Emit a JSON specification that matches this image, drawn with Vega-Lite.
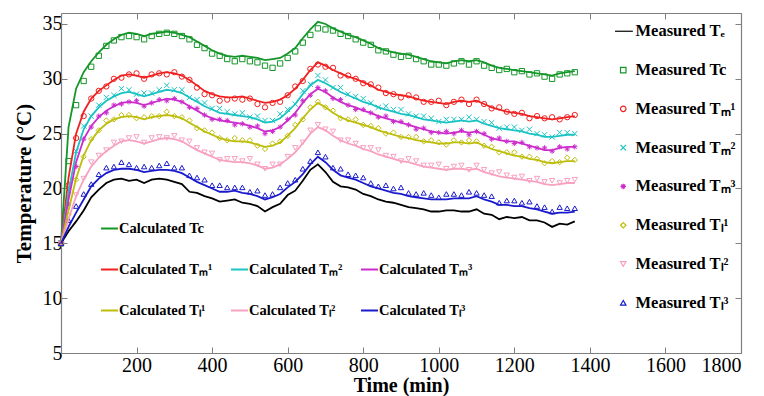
{
"$schema":"https://vega.github.io/schema/vega-lite/v6.json",
"width":680,"height":340,
"autosize":{"type":"none"},
"padding":{"left":61,"top":13,"right":23,"bottom":43},
"background":"white",
"config":{"view":{"stroke":null},"font":"Liberation Serif",
"axis":{"grid":false,"domainColor":"#7f7f7f","tickColor":"#7f7f7f","labelColor":"#000","labelFont":"Liberation Serif","labelFontSize":20,"titleFont":"Liberation Serif","titleFontSize":21,"titleFontWeight":"bold","titleColor":"#000","tickSize":-6,"domainWidth":1.2},
"legend":{"labelFont":"Liberation Serif","labelFontWeight":"bold","labelColor":"#000"}},
"datasets":{
"calc":[
{"s":"c","t":0,"v":15.0},{"s":"c","t":20,"v":25.6},{"s":"c","t":40,"v":29.1},{"s":"c","t":60,"v":30.6},{"s":"c","t":80,"v":31.6},{"s":"c","t":100,"v":32.4},{"s":"c","t":120,"v":33.1},{"s":"c","t":140,"v":33.6},{"s":"c","t":160,"v":34.0},{"s":"c","t":180,"v":34.2},{"s":"c","t":200,"v":34.1},{"s":"c","t":220,"v":33.9},{"s":"c","t":240,"v":34.1},{"s":"c","t":260,"v":34.2},{"s":"c","t":280,"v":34.3},{"s":"c","t":300,"v":34.2},{"s":"c","t":320,"v":34.0},{"s":"c","t":340,"v":33.8},{"s":"c","t":360,"v":33.4},{"s":"c","t":380,"v":33.0},{"s":"c","t":400,"v":32.6},{"s":"c","t":420,"v":32.3},{"s":"c","t":440,"v":32.1},{"s":"c","t":460,"v":32.0},{"s":"c","t":480,"v":32.1},{"s":"c","t":500,"v":32.0},{"s":"c","t":520,"v":31.9},{"s":"c","t":540,"v":31.7},{"s":"c","t":560,"v":31.8},{"s":"c","t":580,"v":31.9},{"s":"c","t":600,"v":32.3},{"s":"c","t":620,"v":32.8},{"s":"c","t":640,"v":33.7},{"s":"c","t":660,"v":34.5},{"s":"c","t":680,"v":35.2},{"s":"c","t":700,"v":35.0},{"s":"c","t":720,"v":34.6},{"s":"c","t":740,"v":34.3},{"s":"c","t":760,"v":34.0},{"s":"c","t":780,"v":33.8},{"s":"c","t":800,"v":33.5},{"s":"c","t":820,"v":33.2},{"s":"c","t":840,"v":32.8},{"s":"c","t":860,"v":32.6},{"s":"c","t":880,"v":32.4},{"s":"c","t":900,"v":32.3},{"s":"c","t":920,"v":32.2},{"s":"c","t":940,"v":32.0},{"s":"c","t":960,"v":31.8},{"s":"c","t":980,"v":31.6},{"s":"c","t":1000,"v":31.5},{"s":"c","t":1020,"v":31.4},{"s":"c","t":1040,"v":31.6},{"s":"c","t":1060,"v":31.7},{"s":"c","t":1080,"v":31.6},{"s":"c","t":1100,"v":31.7},{"s":"c","t":1120,"v":31.5},{"s":"c","t":1140,"v":31.2},{"s":"c","t":1160,"v":31.0},{"s":"c","t":1180,"v":30.9},{"s":"c","t":1200,"v":30.8},{"s":"c","t":1220,"v":30.7},{"s":"c","t":1240,"v":30.6},{"s":"c","t":1260,"v":30.5},{"s":"c","t":1280,"v":30.4},{"s":"c","t":1300,"v":30.3},{"s":"c","t":1320,"v":30.5},{"s":"c","t":1340,"v":30.6},{"s":"c","t":1360,"v":30.7},
{"s":"m1","t":0,"v":15.0},{"s":"m1","t":20,"v":21.0},{"s":"m1","t":40,"v":25.0},{"s":"m1","t":60,"v":27.0},{"s":"m1","t":80,"v":28.2},{"s":"m1","t":100,"v":28.9},{"s":"m1","t":120,"v":29.4},{"s":"m1","t":140,"v":29.9},{"s":"m1","t":160,"v":30.3},{"s":"m1","t":180,"v":30.4},{"s":"m1","t":200,"v":30.3},{"s":"m1","t":220,"v":30.1},{"s":"m1","t":240,"v":30.3},{"s":"m1","t":260,"v":30.5},{"s":"m1","t":280,"v":30.6},{"s":"m1","t":300,"v":30.5},{"s":"m1","t":320,"v":30.3},{"s":"m1","t":340,"v":29.9},{"s":"m1","t":360,"v":29.4},{"s":"m1","t":380,"v":28.9},{"s":"m1","t":400,"v":28.6},{"s":"m1","t":420,"v":28.4},{"s":"m1","t":440,"v":28.3},{"s":"m1","t":460,"v":28.3},{"s":"m1","t":480,"v":28.4},{"s":"m1","t":500,"v":28.2},{"s":"m1","t":520,"v":28.0},{"s":"m1","t":540,"v":27.8},{"s":"m1","t":560,"v":27.9},{"s":"m1","t":580,"v":28.1},{"s":"m1","t":600,"v":28.5},{"s":"m1","t":620,"v":29.1},{"s":"m1","t":640,"v":29.9},{"s":"m1","t":660,"v":30.8},{"s":"m1","t":680,"v":31.5},{"s":"m1","t":700,"v":31.2},{"s":"m1","t":720,"v":30.8},{"s":"m1","t":740,"v":30.5},{"s":"m1","t":760,"v":30.2},{"s":"m1","t":780,"v":30.0},{"s":"m1","t":800,"v":29.7},{"s":"m1","t":820,"v":29.4},{"s":"m1","t":840,"v":29.0},{"s":"m1","t":860,"v":28.8},{"s":"m1","t":880,"v":28.6},{"s":"m1","t":900,"v":28.5},{"s":"m1","t":920,"v":28.4},{"s":"m1","t":940,"v":28.2},{"s":"m1","t":960,"v":28.0},{"s":"m1","t":980,"v":27.9},{"s":"m1","t":1000,"v":27.8},{"s":"m1","t":1020,"v":27.7},{"s":"m1","t":1040,"v":27.9},{"s":"m1","t":1060,"v":28.0},{"s":"m1","t":1080,"v":27.9},{"s":"m1","t":1100,"v":28.0},{"s":"m1","t":1120,"v":27.7},{"s":"m1","t":1140,"v":27.4},{"s":"m1","t":1160,"v":27.2},{"s":"m1","t":1180,"v":27.0},{"s":"m1","t":1200,"v":26.9},{"s":"m1","t":1220,"v":26.8},{"s":"m1","t":1240,"v":26.6},{"s":"m1","t":1260,"v":26.5},{"s":"m1","t":1280,"v":26.4},{"s":"m1","t":1300,"v":26.3},{"s":"m1","t":1320,"v":26.4},{"s":"m1","t":1340,"v":26.5},{"s":"m1","t":1360,"v":26.6},
{"s":"m2","t":0,"v":15.0},{"s":"m2","t":20,"v":19.7},{"s":"m2","t":40,"v":23.3},{"s":"m2","t":60,"v":25.4},{"s":"m2","t":80,"v":26.6},{"s":"m2","t":100,"v":27.4},{"s":"m2","t":120,"v":28.0},{"s":"m2","t":140,"v":28.4},{"s":"m2","t":160,"v":28.7},{"s":"m2","t":180,"v":28.8},{"s":"m2","t":200,"v":28.6},{"s":"m2","t":220,"v":28.4},{"s":"m2","t":240,"v":28.6},{"s":"m2","t":260,"v":28.8},{"s":"m2","t":280,"v":29.0},{"s":"m2","t":300,"v":28.9},{"s":"m2","t":320,"v":28.7},{"s":"m2","t":340,"v":28.3},{"s":"m2","t":360,"v":27.9},{"s":"m2","t":380,"v":27.5},{"s":"m2","t":400,"v":27.2},{"s":"m2","t":420,"v":26.9},{"s":"m2","t":440,"v":26.8},{"s":"m2","t":460,"v":26.7},{"s":"m2","t":480,"v":26.6},{"s":"m2","t":500,"v":26.5},{"s":"m2","t":520,"v":26.3},{"s":"m2","t":540,"v":26.0},{"s":"m2","t":560,"v":26.1},{"s":"m2","t":580,"v":26.4},{"s":"m2","t":600,"v":27.0},{"s":"m2","t":620,"v":27.7},{"s":"m2","t":640,"v":28.6},{"s":"m2","t":660,"v":29.4},{"s":"m2","t":680,"v":29.9},{"s":"m2","t":700,"v":29.6},{"s":"m2","t":720,"v":29.2},{"s":"m2","t":740,"v":28.8},{"s":"m2","t":760,"v":28.5},{"s":"m2","t":780,"v":28.2},{"s":"m2","t":800,"v":27.9},{"s":"m2","t":820,"v":27.7},{"s":"m2","t":840,"v":27.4},{"s":"m2","t":860,"v":27.2},{"s":"m2","t":880,"v":27.0},{"s":"m2","t":900,"v":26.8},{"s":"m2","t":920,"v":26.7},{"s":"m2","t":940,"v":26.5},{"s":"m2","t":960,"v":26.3},{"s":"m2","t":980,"v":26.2},{"s":"m2","t":1000,"v":26.1},{"s":"m2","t":1020,"v":26.0},{"s":"m2","t":1040,"v":26.1},{"s":"m2","t":1060,"v":26.2},{"s":"m2","t":1080,"v":26.1},{"s":"m2","t":1100,"v":26.2},{"s":"m2","t":1120,"v":25.9},{"s":"m2","t":1140,"v":25.7},{"s":"m2","t":1160,"v":25.5},{"s":"m2","t":1180,"v":25.4},{"s":"m2","t":1200,"v":25.3},{"s":"m2","t":1220,"v":25.2},{"s":"m2","t":1240,"v":25.0},{"s":"m2","t":1260,"v":24.9},{"s":"m2","t":1280,"v":24.7},{"s":"m2","t":1300,"v":24.7},{"s":"m2","t":1320,"v":24.8},{"s":"m2","t":1340,"v":24.9},{"s":"m2","t":1360,"v":24.9},
{"s":"m3","t":0,"v":15.0},{"s":"m3","t":20,"v":19.0},{"s":"m3","t":40,"v":22.4},{"s":"m3","t":60,"v":24.5},{"s":"m3","t":80,"v":25.7},{"s":"m3","t":100,"v":26.5},{"s":"m3","t":120,"v":27.1},{"s":"m3","t":140,"v":27.5},{"s":"m3","t":160,"v":27.8},{"s":"m3","t":180,"v":27.9},{"s":"m3","t":200,"v":27.8},{"s":"m3","t":220,"v":27.6},{"s":"m3","t":240,"v":27.8},{"s":"m3","t":260,"v":28.0},{"s":"m3","t":280,"v":28.2},{"s":"m3","t":300,"v":28.1},{"s":"m3","t":320,"v":27.9},{"s":"m3","t":340,"v":27.5},{"s":"m3","t":360,"v":27.1},{"s":"m3","t":380,"v":26.7},{"s":"m3","t":400,"v":26.4},{"s":"m3","t":420,"v":26.2},{"s":"m3","t":440,"v":26.1},{"s":"m3","t":460,"v":26.0},{"s":"m3","t":480,"v":25.9},{"s":"m3","t":500,"v":25.7},{"s":"m3","t":520,"v":25.5},{"s":"m3","t":540,"v":25.2},{"s":"m3","t":560,"v":25.3},{"s":"m3","t":580,"v":25.6},{"s":"m3","t":600,"v":26.2},{"s":"m3","t":620,"v":26.9},{"s":"m3","t":640,"v":27.8},{"s":"m3","t":660,"v":28.6},{"s":"m3","t":680,"v":29.1},{"s":"m3","t":700,"v":28.8},{"s":"m3","t":720,"v":28.3},{"s":"m3","t":740,"v":27.9},{"s":"m3","t":760,"v":27.6},{"s":"m3","t":780,"v":27.4},{"s":"m3","t":800,"v":27.1},{"s":"m3","t":820,"v":26.9},{"s":"m3","t":840,"v":26.6},{"s":"m3","t":860,"v":26.4},{"s":"m3","t":880,"v":26.2},{"s":"m3","t":900,"v":26.0},{"s":"m3","t":920,"v":25.8},{"s":"m3","t":940,"v":25.6},{"s":"m3","t":960,"v":25.4},{"s":"m3","t":980,"v":25.2},{"s":"m3","t":1000,"v":25.1},{"s":"m3","t":1020,"v":25.0},{"s":"m3","t":1040,"v":25.1},{"s":"m3","t":1060,"v":25.2},{"s":"m3","t":1080,"v":25.1},{"s":"m3","t":1100,"v":25.2},{"s":"m3","t":1120,"v":24.9},{"s":"m3","t":1140,"v":24.6},{"s":"m3","t":1160,"v":24.4},{"s":"m3","t":1180,"v":24.3},{"s":"m3","t":1200,"v":24.3},{"s":"m3","t":1220,"v":24.1},{"s":"m3","t":1240,"v":23.9},{"s":"m3","t":1260,"v":23.7},{"s":"m3","t":1280,"v":23.5},{"s":"m3","t":1300,"v":23.5},{"s":"m3","t":1320,"v":23.7},{"s":"m3","t":1340,"v":23.8},{"s":"m3","t":1360,"v":23.8},
{"s":"l1","t":0,"v":15.0},{"s":"l1","t":20,"v":18.0},{"s":"l1","t":40,"v":20.9},{"s":"l1","t":60,"v":23.0},{"s":"l1","t":80,"v":24.4},{"s":"l1","t":100,"v":25.3},{"s":"l1","t":120,"v":25.9},{"s":"l1","t":140,"v":26.3},{"s":"l1","t":160,"v":26.5},{"s":"l1","t":180,"v":26.6},{"s":"l1","t":200,"v":26.5},{"s":"l1","t":220,"v":26.3},{"s":"l1","t":240,"v":26.5},{"s":"l1","t":260,"v":26.6},{"s":"l1","t":280,"v":26.7},{"s":"l1","t":300,"v":26.6},{"s":"l1","t":320,"v":26.4},{"s":"l1","t":340,"v":26.0},{"s":"l1","t":360,"v":25.6},{"s":"l1","t":380,"v":25.2},{"s":"l1","t":400,"v":24.9},{"s":"l1","t":420,"v":24.6},{"s":"l1","t":440,"v":24.4},{"s":"l1","t":460,"v":24.3},{"s":"l1","t":480,"v":24.3},{"s":"l1","t":500,"v":24.2},{"s":"l1","t":520,"v":24.0},{"s":"l1","t":540,"v":23.8},{"s":"l1","t":560,"v":23.9},{"s":"l1","t":580,"v":24.2},{"s":"l1","t":600,"v":24.8},{"s":"l1","t":620,"v":25.5},{"s":"l1","t":640,"v":26.4},{"s":"l1","t":660,"v":27.2},{"s":"l1","t":680,"v":27.8},{"s":"l1","t":700,"v":27.4},{"s":"l1","t":720,"v":26.9},{"s":"l1","t":740,"v":26.5},{"s":"l1","t":760,"v":26.2},{"s":"l1","t":780,"v":26.0},{"s":"l1","t":800,"v":25.8},{"s":"l1","t":820,"v":25.6},{"s":"l1","t":840,"v":25.3},{"s":"l1","t":860,"v":25.1},{"s":"l1","t":880,"v":24.9},{"s":"l1","t":900,"v":24.7},{"s":"l1","t":920,"v":24.6},{"s":"l1","t":940,"v":24.4},{"s":"l1","t":960,"v":24.3},{"s":"l1","t":980,"v":24.2},{"s":"l1","t":1000,"v":24.1},{"s":"l1","t":1020,"v":24.1},{"s":"l1","t":1040,"v":24.2},{"s":"l1","t":1060,"v":24.2},{"s":"l1","t":1080,"v":24.1},{"s":"l1","t":1100,"v":24.2},{"s":"l1","t":1120,"v":23.9},{"s":"l1","t":1140,"v":23.6},{"s":"l1","t":1160,"v":23.4},{"s":"l1","t":1180,"v":23.2},{"s":"l1","t":1200,"v":23.0},{"s":"l1","t":1220,"v":22.9},{"s":"l1","t":1240,"v":22.7},{"s":"l1","t":1260,"v":22.6},{"s":"l1","t":1280,"v":22.4},{"s":"l1","t":1300,"v":22.3},{"s":"l1","t":1320,"v":22.4},{"s":"l1","t":1340,"v":22.5},{"s":"l1","t":1360,"v":22.5},
{"s":"l2","t":0,"v":15.0},{"s":"l2","t":20,"v":17.2},{"s":"l2","t":40,"v":19.3},{"s":"l2","t":60,"v":20.8},{"s":"l2","t":80,"v":22.0},{"s":"l2","t":100,"v":22.8},{"s":"l2","t":120,"v":23.4},{"s":"l2","t":140,"v":23.9},{"s":"l2","t":160,"v":24.3},{"s":"l2","t":180,"v":24.4},{"s":"l2","t":200,"v":24.3},{"s":"l2","t":220,"v":24.1},{"s":"l2","t":240,"v":24.3},{"s":"l2","t":260,"v":24.5},{"s":"l2","t":280,"v":24.6},{"s":"l2","t":300,"v":24.5},{"s":"l2","t":320,"v":24.3},{"s":"l2","t":340,"v":23.9},{"s":"l2","t":360,"v":23.5},{"s":"l2","t":380,"v":23.2},{"s":"l2","t":400,"v":22.9},{"s":"l2","t":420,"v":22.6},{"s":"l2","t":440,"v":22.5},{"s":"l2","t":460,"v":22.4},{"s":"l2","t":480,"v":22.4},{"s":"l2","t":500,"v":22.3},{"s":"l2","t":520,"v":22.1},{"s":"l2","t":540,"v":21.8},{"s":"l2","t":560,"v":21.9},{"s":"l2","t":580,"v":22.2},{"s":"l2","t":600,"v":22.7},{"s":"l2","t":620,"v":23.3},{"s":"l2","t":640,"v":24.1},{"s":"l2","t":660,"v":25.0},{"s":"l2","t":680,"v":25.6},{"s":"l2","t":700,"v":25.3},{"s":"l2","t":720,"v":24.8},{"s":"l2","t":740,"v":24.4},{"s":"l2","t":760,"v":24.1},{"s":"l2","t":780,"v":23.9},{"s":"l2","t":800,"v":23.6},{"s":"l2","t":820,"v":23.4},{"s":"l2","t":840,"v":23.1},{"s":"l2","t":860,"v":22.9},{"s":"l2","t":880,"v":22.7},{"s":"l2","t":900,"v":22.5},{"s":"l2","t":920,"v":22.4},{"s":"l2","t":940,"v":22.2},{"s":"l2","t":960,"v":22.0},{"s":"l2","t":980,"v":21.9},{"s":"l2","t":1000,"v":21.8},{"s":"l2","t":1020,"v":21.7},{"s":"l2","t":1040,"v":21.8},{"s":"l2","t":1060,"v":21.8},{"s":"l2","t":1080,"v":21.7},{"s":"l2","t":1100,"v":21.8},{"s":"l2","t":1120,"v":21.5},{"s":"l2","t":1140,"v":21.3},{"s":"l2","t":1160,"v":21.1},{"s":"l2","t":1180,"v":21.0},{"s":"l2","t":1200,"v":20.9},{"s":"l2","t":1220,"v":20.8},{"s":"l2","t":1240,"v":20.7},{"s":"l2","t":1260,"v":20.6},{"s":"l2","t":1280,"v":20.4},{"s":"l2","t":1300,"v":20.3},{"s":"l2","t":1320,"v":20.4},{"s":"l2","t":1340,"v":20.5},{"s":"l2","t":1360,"v":20.5},
{"s":"l3","t":0,"v":15.0},{"s":"l3","t":20,"v":16.5},{"s":"l3","t":40,"v":17.8},{"s":"l3","t":60,"v":19.0},{"s":"l3","t":80,"v":20.2},{"s":"l3","t":100,"v":20.9},{"s":"l3","t":120,"v":21.4},{"s":"l3","t":140,"v":21.7},{"s":"l3","t":160,"v":21.8},{"s":"l3","t":180,"v":21.8},{"s":"l3","t":200,"v":21.7},{"s":"l3","t":220,"v":21.5},{"s":"l3","t":240,"v":21.6},{"s":"l3","t":260,"v":21.7},{"s":"l3","t":280,"v":21.7},{"s":"l3","t":300,"v":21.6},{"s":"l3","t":320,"v":21.4},{"s":"l3","t":340,"v":21.0},{"s":"l3","t":360,"v":20.6},{"s":"l3","t":380,"v":20.3},{"s":"l3","t":400,"v":20.0},{"s":"l3","t":420,"v":19.7},{"s":"l3","t":440,"v":19.7},{"s":"l3","t":460,"v":19.8},{"s":"l3","t":480,"v":19.6},{"s":"l3","t":500,"v":19.5},{"s":"l3","t":520,"v":19.3},{"s":"l3","t":540,"v":19.0},{"s":"l3","t":560,"v":19.2},{"s":"l3","t":580,"v":19.5},{"s":"l3","t":600,"v":20.1},{"s":"l3","t":620,"v":20.6},{"s":"l3","t":640,"v":21.3},{"s":"l3","t":660,"v":22.2},{"s":"l3","t":680,"v":22.9},{"s":"l3","t":700,"v":22.4},{"s":"l3","t":720,"v":21.7},{"s":"l3","t":740,"v":21.2},{"s":"l3","t":760,"v":21.0},{"s":"l3","t":780,"v":20.8},{"s":"l3","t":800,"v":20.5},{"s":"l3","t":820,"v":20.2},{"s":"l3","t":840,"v":20.0},{"s":"l3","t":860,"v":19.8},{"s":"l3","t":880,"v":19.6},{"s":"l3","t":900,"v":19.5},{"s":"l3","t":920,"v":19.3},{"s":"l3","t":940,"v":19.2},{"s":"l3","t":960,"v":19.1},{"s":"l3","t":980,"v":19.0},{"s":"l3","t":1000,"v":19.0},{"s":"l3","t":1020,"v":19.0},{"s":"l3","t":1040,"v":19.1},{"s":"l3","t":1060,"v":19.1},{"s":"l3","t":1080,"v":19.1},{"s":"l3","t":1100,"v":19.3},{"s":"l3","t":1120,"v":19.0},{"s":"l3","t":1140,"v":18.8},{"s":"l3","t":1160,"v":18.5},{"s":"l3","t":1180,"v":18.5},{"s":"l3","t":1200,"v":18.4},{"s":"l3","t":1220,"v":18.4},{"s":"l3","t":1240,"v":18.2},{"s":"l3","t":1260,"v":18.1},{"s":"l3","t":1280,"v":17.9},{"s":"l3","t":1300,"v":17.7},{"s":"l3","t":1320,"v":17.8},{"s":"l3","t":1340,"v":17.8},{"s":"l3","t":1360,"v":17.9}
],
"meas":[
{"s":"e","t":0,"v":15.0},{"s":"e","t":20,"v":16.1},{"s":"e","t":40,"v":17.0},{"s":"e","t":60,"v":18.0},{"s":"e","t":80,"v":19.2},{"s":"e","t":100,"v":19.9},{"s":"e","t":120,"v":20.5},{"s":"e","t":140,"v":20.8},{"s":"e","t":160,"v":20.9},{"s":"e","t":180,"v":20.7},{"s":"e","t":200,"v":20.8},{"s":"e","t":220,"v":20.5},{"s":"e","t":240,"v":20.8},{"s":"e","t":260,"v":20.9},{"s":"e","t":280,"v":20.8},{"s":"e","t":300,"v":20.6},{"s":"e","t":320,"v":20.4},{"s":"e","t":340,"v":19.7},{"s":"e","t":360,"v":19.6},{"s":"e","t":380,"v":19.3},{"s":"e","t":400,"v":19.1},{"s":"e","t":420,"v":18.8},{"s":"e","t":440,"v":18.9},{"s":"e","t":460,"v":19.0},{"s":"e","t":480,"v":18.7},{"s":"e","t":500,"v":18.6},{"s":"e","t":520,"v":18.4},{"s":"e","t":540,"v":17.9},{"s":"e","t":560,"v":18.3},{"s":"e","t":580,"v":18.6},{"s":"e","t":600,"v":19.4},{"s":"e","t":620,"v":19.8},{"s":"e","t":640,"v":20.7},{"s":"e","t":660,"v":21.7},{"s":"e","t":680,"v":22.2},{"s":"e","t":700,"v":21.5},{"s":"e","t":720,"v":20.6},{"s":"e","t":740,"v":20.2},{"s":"e","t":760,"v":20.1},{"s":"e","t":780,"v":19.9},{"s":"e","t":800,"v":19.5},{"s":"e","t":820,"v":19.3},{"s":"e","t":840,"v":19.0},{"s":"e","t":860,"v":18.8},{"s":"e","t":880,"v":18.7},{"s":"e","t":900,"v":18.5},{"s":"e","t":920,"v":18.3},{"s":"e","t":940,"v":18.2},{"s":"e","t":960,"v":18.1},{"s":"e","t":980,"v":17.9},{"s":"e","t":1000,"v":17.9},{"s":"e","t":1020,"v":18.0},{"s":"e","t":1040,"v":18.0},{"s":"e","t":1060,"v":17.9},{"s":"e","t":1080,"v":17.9},{"s":"e","t":1100,"v":18.1},{"s":"e","t":1120,"v":17.7},{"s":"e","t":1140,"v":17.6},{"s":"e","t":1160,"v":17.2},{"s":"e","t":1180,"v":17.4},{"s":"e","t":1200,"v":17.3},{"s":"e","t":1220,"v":17.4},{"s":"e","t":1240,"v":17.1},{"s":"e","t":1260,"v":17.1},{"s":"e","t":1280,"v":16.9},{"s":"e","t":1300,"v":16.5},{"s":"e","t":1320,"v":16.8},{"s":"e","t":1340,"v":16.7},{"s":"e","t":1360,"v":17.0},
{"s":"c","t":0,"v":15.0},{"s":"c","t":20,"v":22.5},{"s":"c","t":40,"v":27.6},{"s":"c","t":60,"v":29.8},{"s":"c","t":80,"v":31.1},{"s":"c","t":100,"v":32.1},{"s":"c","t":120,"v":33.0},{"s":"c","t":140,"v":33.5},{"s":"c","t":160,"v":33.8},{"s":"c","t":180,"v":33.9},{"s":"c","t":200,"v":33.8},{"s":"c","t":220,"v":33.6},{"s":"c","t":240,"v":33.9},{"s":"c","t":260,"v":34.1},{"s":"c","t":280,"v":34.2},{"s":"c","t":300,"v":34.1},{"s":"c","t":320,"v":33.9},{"s":"c","t":340,"v":33.6},{"s":"c","t":360,"v":33.1},{"s":"c","t":380,"v":32.8},{"s":"c","t":400,"v":32.3},{"s":"c","t":420,"v":32.1},{"s":"c","t":440,"v":31.8},{"s":"c","t":460,"v":31.6},{"s":"c","t":480,"v":31.8},{"s":"c","t":500,"v":31.6},{"s":"c","t":520,"v":31.5},{"s":"c","t":540,"v":31.2},{"s":"c","t":560,"v":31.0},{"s":"c","t":580,"v":31.4},{"s":"c","t":600,"v":31.9},{"s":"c","t":620,"v":32.5},{"s":"c","t":640,"v":33.3},{"s":"c","t":660,"v":34.0},{"s":"c","t":680,"v":34.6},{"s":"c","t":700,"v":34.5},{"s":"c","t":720,"v":34.4},{"s":"c","t":740,"v":34.1},{"s":"c","t":760,"v":33.9},{"s":"c","t":780,"v":33.6},{"s":"c","t":800,"v":33.3},{"s":"c","t":820,"v":33.1},{"s":"c","t":840,"v":32.6},{"s":"c","t":860,"v":32.5},{"s":"c","t":880,"v":32.2},{"s":"c","t":900,"v":32.0},{"s":"c","t":920,"v":32.1},{"s":"c","t":940,"v":31.8},{"s":"c","t":960,"v":31.6},{"s":"c","t":980,"v":31.3},{"s":"c","t":1000,"v":31.3},{"s":"c","t":1020,"v":31.2},{"s":"c","t":1040,"v":31.4},{"s":"c","t":1060,"v":31.6},{"s":"c","t":1080,"v":31.3},{"s":"c","t":1100,"v":31.6},{"s":"c","t":1120,"v":31.2},{"s":"c","t":1140,"v":31.0},{"s":"c","t":1160,"v":30.8},{"s":"c","t":1180,"v":30.9},{"s":"c","t":1200,"v":30.6},{"s":"c","t":1220,"v":30.7},{"s":"c","t":1240,"v":30.4},{"s":"c","t":1260,"v":30.5},{"s":"c","t":1280,"v":30.2},{"s":"c","t":1300,"v":30.0},{"s":"c","t":1320,"v":30.4},{"s":"c","t":1340,"v":30.5},{"s":"c","t":1360,"v":30.6},
{"s":"m1","t":0,"v":15.0},{"s":"m1","t":20,"v":20.3},{"s":"m1","t":40,"v":24.6},{"s":"m1","t":60,"v":26.6},{"s":"m1","t":80,"v":28.2},{"s":"m1","t":100,"v":28.9},{"s":"m1","t":120,"v":29.3},{"s":"m1","t":140,"v":30.0},{"s":"m1","t":160,"v":30.1},{"s":"m1","t":180,"v":30.4},{"s":"m1","t":200,"v":30.5},{"s":"m1","t":220,"v":30.0},{"s":"m1","t":240,"v":30.4},{"s":"m1","t":260,"v":30.5},{"s":"m1","t":280,"v":30.4},{"s":"m1","t":300,"v":30.6},{"s":"m1","t":320,"v":30.2},{"s":"m1","t":340,"v":29.9},{"s":"m1","t":360,"v":29.2},{"s":"m1","t":380,"v":28.6},{"s":"m1","t":400,"v":28.5},{"s":"m1","t":420,"v":28.0},{"s":"m1","t":440,"v":28.1},{"s":"m1","t":460,"v":28.2},{"s":"m1","t":480,"v":28.1},{"s":"m1","t":500,"v":28.2},{"s":"m1","t":520,"v":27.7},{"s":"m1","t":540,"v":27.4},{"s":"m1","t":560,"v":27.8},{"s":"m1","t":580,"v":27.9},{"s":"m1","t":600,"v":28.5},{"s":"m1","t":620,"v":29.3},{"s":"m1","t":640,"v":29.8},{"s":"m1","t":660,"v":30.9},{"s":"m1","t":680,"v":31.3},{"s":"m1","t":700,"v":31.1},{"s":"m1","t":720,"v":31.0},{"s":"m1","t":740,"v":30.3},{"s":"m1","t":760,"v":30.3},{"s":"m1","t":780,"v":30.0},{"s":"m1","t":800,"v":29.6},{"s":"m1","t":820,"v":29.5},{"s":"m1","t":840,"v":29.2},{"s":"m1","t":860,"v":28.7},{"s":"m1","t":880,"v":28.6},{"s":"m1","t":900,"v":28.3},{"s":"m1","t":920,"v":28.5},{"s":"m1","t":940,"v":28.3},{"s":"m1","t":960,"v":27.9},{"s":"m1","t":980,"v":27.9},{"s":"m1","t":1000,"v":28.0},{"s":"m1","t":1020,"v":27.6},{"s":"m1","t":1040,"v":27.9},{"s":"m1","t":1060,"v":28.1},{"s":"m1","t":1080,"v":27.7},{"s":"m1","t":1100,"v":28.1},{"s":"m1","t":1120,"v":27.7},{"s":"m1","t":1140,"v":27.3},{"s":"m1","t":1160,"v":27.4},{"s":"m1","t":1180,"v":27.0},{"s":"m1","t":1200,"v":26.8},{"s":"m1","t":1220,"v":26.9},{"s":"m1","t":1240,"v":26.4},{"s":"m1","t":1260,"v":26.6},{"s":"m1","t":1280,"v":26.4},{"s":"m1","t":1300,"v":26.5},{"s":"m1","t":1320,"v":26.3},{"s":"m1","t":1340,"v":26.5},{"s":"m1","t":1360,"v":26.7},
{"s":"m2","t":0,"v":15.0},{"s":"m2","t":20,"v":19.9},{"s":"m2","t":40,"v":23.4},{"s":"m2","t":60,"v":25.7},{"s":"m2","t":80,"v":26.6},{"s":"m2","t":100,"v":27.6},{"s":"m2","t":120,"v":28.3},{"s":"m2","t":140,"v":28.5},{"s":"m2","t":160,"v":29.1},{"s":"m2","t":180,"v":29.0},{"s":"m2","t":200,"v":28.6},{"s":"m2","t":220,"v":28.7},{"s":"m2","t":240,"v":28.7},{"s":"m2","t":260,"v":29.0},{"s":"m2","t":280,"v":29.4},{"s":"m2","t":300,"v":29.0},{"s":"m2","t":320,"v":29.0},{"s":"m2","t":340,"v":28.3},{"s":"m2","t":360,"v":28.1},{"s":"m2","t":380,"v":27.8},{"s":"m2","t":400,"v":27.3},{"s":"m2","t":420,"v":27.3},{"s":"m2","t":440,"v":27.0},{"s":"m2","t":460,"v":26.8},{"s":"m2","t":480,"v":26.9},{"s":"m2","t":500,"v":26.5},{"s":"m2","t":520,"v":26.6},{"s":"m2","t":540,"v":26.2},{"s":"m2","t":560,"v":26.2},{"s":"m2","t":580,"v":26.8},{"s":"m2","t":600,"v":27.2},{"s":"m2","t":620,"v":27.7},{"s":"m2","t":640,"v":28.9},{"s":"m2","t":660,"v":29.5},{"s":"m2","t":680,"v":30.3},{"s":"m2","t":700,"v":29.9},{"s":"m2","t":720,"v":29.2},{"s":"m2","t":740,"v":29.2},{"s":"m2","t":760,"v":28.6},{"s":"m2","t":780,"v":28.4},{"s":"m2","t":800,"v":28.2},{"s":"m2","t":820,"v":27.8},{"s":"m2","t":840,"v":27.4},{"s":"m2","t":860,"v":27.5},{"s":"m2","t":880,"v":27.2},{"s":"m2","t":900,"v":27.2},{"s":"m2","t":920,"v":26.8},{"s":"m2","t":940,"v":26.6},{"s":"m2","t":960,"v":26.6},{"s":"m2","t":980,"v":26.4},{"s":"m2","t":1000,"v":26.1},{"s":"m2","t":1020,"v":26.3},{"s":"m2","t":1040,"v":26.3},{"s":"m2","t":1060,"v":26.3},{"s":"m2","t":1080,"v":26.5},{"s":"m2","t":1100,"v":26.3},{"s":"m2","t":1120,"v":26.1},{"s":"m2","t":1140,"v":26.0},{"s":"m2","t":1160,"v":25.5},{"s":"m2","t":1180,"v":25.6},{"s":"m2","t":1200,"v":25.6},{"s":"m2","t":1220,"v":25.3},{"s":"m2","t":1240,"v":25.4},{"s":"m2","t":1260,"v":25.0},{"s":"m2","t":1280,"v":24.9},{"s":"m2","t":1300,"v":24.7},{"s":"m2","t":1320,"v":25.1},{"s":"m2","t":1340,"v":25.1},{"s":"m2","t":1360,"v":25.0},
{"s":"m3","t":0,"v":15.0},{"s":"m3","t":20,"v":18.6},{"s":"m3","t":40,"v":22.0},{"s":"m3","t":60,"v":24.5},{"s":"m3","t":80,"v":25.6},{"s":"m3","t":100,"v":26.6},{"s":"m3","t":120,"v":26.9},{"s":"m3","t":140,"v":27.6},{"s":"m3","t":160,"v":27.7},{"s":"m3","t":180,"v":27.9},{"s":"m3","t":200,"v":28.0},{"s":"m3","t":220,"v":27.5},{"s":"m3","t":240,"v":27.8},{"s":"m3","t":260,"v":28.1},{"s":"m3","t":280,"v":28.0},{"s":"m3","t":300,"v":28.2},{"s":"m3","t":320,"v":27.9},{"s":"m3","t":340,"v":27.4},{"s":"m3","t":360,"v":27.3},{"s":"m3","t":380,"v":26.7},{"s":"m3","t":400,"v":26.3},{"s":"m3","t":420,"v":26.3},{"s":"m3","t":440,"v":26.2},{"s":"m3","t":460,"v":25.8},{"s":"m3","t":480,"v":25.9},{"s":"m3","t":500,"v":25.6},{"s":"m3","t":520,"v":25.7},{"s":"m3","t":540,"v":25.0},{"s":"m3","t":560,"v":25.2},{"s":"m3","t":580,"v":25.6},{"s":"m3","t":600,"v":26.3},{"s":"m3","t":620,"v":26.7},{"s":"m3","t":640,"v":28.0},{"s":"m3","t":660,"v":28.5},{"s":"m3","t":680,"v":29.2},{"s":"m3","t":700,"v":28.9},{"s":"m3","t":720,"v":28.2},{"s":"m3","t":740,"v":28.1},{"s":"m3","t":760,"v":27.6},{"s":"m3","t":780,"v":27.2},{"s":"m3","t":800,"v":27.2},{"s":"m3","t":820,"v":26.9},{"s":"m3","t":840,"v":26.5},{"s":"m3","t":860,"v":26.6},{"s":"m3","t":880,"v":26.1},{"s":"m3","t":900,"v":26.1},{"s":"m3","t":920,"v":25.8},{"s":"m3","t":940,"v":25.4},{"s":"m3","t":960,"v":25.5},{"s":"m3","t":980,"v":25.1},{"s":"m3","t":1000,"v":25.1},{"s":"m3","t":1020,"v":25.2},{"s":"m3","t":1040,"v":25.0},{"s":"m3","t":1060,"v":25.3},{"s":"m3","t":1080,"v":24.9},{"s":"m3","t":1100,"v":25.2},{"s":"m3","t":1120,"v":25.0},{"s":"m3","t":1140,"v":24.5},{"s":"m3","t":1160,"v":24.6},{"s":"m3","t":1180,"v":24.3},{"s":"m3","t":1200,"v":24.1},{"s":"m3","t":1220,"v":24.2},{"s":"m3","t":1240,"v":23.8},{"s":"m3","t":1260,"v":23.7},{"s":"m3","t":1280,"v":23.7},{"s":"m3","t":1300,"v":23.4},{"s":"m3","t":1320,"v":23.8},{"s":"m3","t":1340,"v":23.6},{"s":"m3","t":1360,"v":23.8},
{"s":"l1","t":0,"v":15.0},{"s":"l1","t":20,"v":17.6},{"s":"l1","t":40,"v":20.8},{"s":"l1","t":60,"v":22.9},{"s":"l1","t":80,"v":24.5},{"s":"l1","t":100,"v":25.3},{"s":"l1","t":120,"v":26.2},{"s":"l1","t":140,"v":26.3},{"s":"l1","t":160,"v":26.7},{"s":"l1","t":180,"v":26.7},{"s":"l1","t":200,"v":26.4},{"s":"l1","t":220,"v":26.5},{"s":"l1","t":240,"v":26.6},{"s":"l1","t":260,"v":26.6},{"s":"l1","t":280,"v":27.0},{"s":"l1","t":300,"v":26.6},{"s":"l1","t":320,"v":26.5},{"s":"l1","t":340,"v":26.2},{"s":"l1","t":360,"v":25.5},{"s":"l1","t":380,"v":25.3},{"s":"l1","t":400,"v":25.1},{"s":"l1","t":420,"v":24.6},{"s":"l1","t":440,"v":24.4},{"s":"l1","t":460,"v":24.6},{"s":"l1","t":480,"v":24.4},{"s":"l1","t":500,"v":24.4},{"s":"l1","t":520,"v":23.9},{"s":"l1","t":540,"v":23.6},{"s":"l1","t":560,"v":24.1},{"s":"l1","t":580,"v":24.3},{"s":"l1","t":600,"v":24.8},{"s":"l1","t":620,"v":25.8},{"s":"l1","t":640,"v":26.3},{"s":"l1","t":660,"v":27.4},{"s":"l1","t":680,"v":27.9},{"s":"l1","t":700,"v":27.4},{"s":"l1","t":720,"v":27.1},{"s":"l1","t":740,"v":26.4},{"s":"l1","t":760,"v":26.3},{"s":"l1","t":780,"v":26.3},{"s":"l1","t":800,"v":25.8},{"s":"l1","t":820,"v":25.7},{"s":"l1","t":840,"v":25.5},{"s":"l1","t":860,"v":25.0},{"s":"l1","t":880,"v":25.1},{"s":"l1","t":900,"v":24.7},{"s":"l1","t":920,"v":24.7},{"s":"l1","t":940,"v":24.7},{"s":"l1","t":960,"v":24.3},{"s":"l1","t":980,"v":24.4},{"s":"l1","t":1000,"v":24.2},{"s":"l1","t":1020,"v":24.0},{"s":"l1","t":1040,"v":24.4},{"s":"l1","t":1060,"v":24.2},{"s":"l1","t":1080,"v":24.4},{"s":"l1","t":1100,"v":24.3},{"s":"l1","t":1120,"v":23.9},{"s":"l1","t":1140,"v":23.8},{"s":"l1","t":1160,"v":23.3},{"s":"l1","t":1180,"v":23.3},{"s":"l1","t":1200,"v":23.3},{"s":"l1","t":1220,"v":22.9},{"s":"l1","t":1240,"v":22.9},{"s":"l1","t":1260,"v":22.7},{"s":"l1","t":1280,"v":22.3},{"s":"l1","t":1300,"v":22.5},{"s":"l1","t":1320,"v":22.4},{"s":"l1","t":1340,"v":22.8},{"s":"l1","t":1360,"v":22.6},
{"s":"l2","t":0,"v":15.0},{"s":"l2","t":20,"v":16.8},{"s":"l2","t":40,"v":19.4},{"s":"l2","t":60,"v":20.9},{"s":"l2","t":80,"v":22.4},{"s":"l2","t":100,"v":23.0},{"s":"l2","t":120,"v":23.5},{"s":"l2","t":140,"v":24.2},{"s":"l2","t":160,"v":24.3},{"s":"l2","t":180,"v":24.6},{"s":"l2","t":200,"v":24.7},{"s":"l2","t":220,"v":24.2},{"s":"l2","t":240,"v":24.6},{"s":"l2","t":260,"v":24.7},{"s":"l2","t":280,"v":24.6},{"s":"l2","t":300,"v":24.8},{"s":"l2","t":320,"v":24.4},{"s":"l2","t":340,"v":24.3},{"s":"l2","t":360,"v":23.7},{"s":"l2","t":380,"v":23.3},{"s":"l2","t":400,"v":23.2},{"s":"l2","t":420,"v":22.6},{"s":"l2","t":440,"v":22.7},{"s":"l2","t":460,"v":22.7},{"s":"l2","t":480,"v":22.5},{"s":"l2","t":500,"v":22.7},{"s":"l2","t":520,"v":22.2},{"s":"l2","t":540,"v":21.8},{"s":"l2","t":560,"v":22.2},{"s":"l2","t":580,"v":22.2},{"s":"l2","t":600,"v":22.9},{"s":"l2","t":620,"v":23.7},{"s":"l2","t":640,"v":24.2},{"s":"l2","t":660,"v":25.3},{"s":"l2","t":680,"v":25.8},{"s":"l2","t":700,"v":25.4},{"s":"l2","t":720,"v":25.2},{"s":"l2","t":740,"v":24.4},{"s":"l2","t":760,"v":24.4},{"s":"l2","t":780,"v":24.1},{"s":"l2","t":800,"v":23.7},{"s":"l2","t":820,"v":23.7},{"s":"l2","t":840,"v":23.5},{"s":"l2","t":860,"v":23.0},{"s":"l2","t":880,"v":22.9},{"s":"l2","t":900,"v":22.5},{"s":"l2","t":920,"v":22.7},{"s":"l2","t":940,"v":22.5},{"s":"l2","t":960,"v":22.1},{"s":"l2","t":980,"v":22.1},{"s":"l2","t":1000,"v":22.2},{"s":"l2","t":1020,"v":21.8},{"s":"l2","t":1040,"v":22.0},{"s":"l2","t":1060,"v":22.1},{"s":"l2","t":1080,"v":21.7},{"s":"l2","t":1100,"v":22.1},{"s":"l2","t":1120,"v":21.7},{"s":"l2","t":1140,"v":21.4},{"s":"l2","t":1160,"v":21.5},{"s":"l2","t":1180,"v":21.2},{"s":"l2","t":1200,"v":21.0},{"s":"l2","t":1220,"v":21.1},{"s":"l2","t":1240,"v":20.7},{"s":"l2","t":1260,"v":20.9},{"s":"l2","t":1280,"v":20.6},{"s":"l2","t":1300,"v":20.7},{"s":"l2","t":1320,"v":20.5},{"s":"l2","t":1340,"v":20.7},{"s":"l2","t":1360,"v":20.8},
{"s":"l3","t":0,"v":15.0},{"s":"l3","t":20,"v":17.1},{"s":"l3","t":40,"v":18.4},{"s":"l3","t":60,"v":19.5},{"s":"l3","t":80,"v":20.4},{"s":"l3","t":100,"v":21.3},{"s":"l3","t":120,"v":21.9},{"s":"l3","t":140,"v":22.0},{"s":"l3","t":160,"v":22.4},{"s":"l3","t":180,"v":22.2},{"s":"l3","t":200,"v":21.9},{"s":"l3","t":220,"v":22.0},{"s":"l3","t":240,"v":21.9},{"s":"l3","t":260,"v":22.1},{"s":"l3","t":280,"v":22.3},{"s":"l3","t":300,"v":21.9},{"s":"l3","t":320,"v":21.9},{"s":"l3","t":340,"v":21.2},{"s":"l3","t":360,"v":21.0},{"s":"l3","t":380,"v":20.8},{"s":"l3","t":400,"v":20.3},{"s":"l3","t":420,"v":20.3},{"s":"l3","t":440,"v":20.1},{"s":"l3","t":460,"v":20.1},{"s":"l3","t":480,"v":20.1},{"s":"l3","t":500,"v":19.7},{"s":"l3","t":520,"v":19.8},{"s":"l3","t":540,"v":19.4},{"s":"l3","t":560,"v":19.5},{"s":"l3","t":580,"v":20.1},{"s":"l3","t":600,"v":20.5},{"s":"l3","t":620,"v":20.8},{"s":"l3","t":640,"v":21.8},{"s":"l3","t":660,"v":22.5},{"s":"l3","t":680,"v":23.3},{"s":"l3","t":700,"v":22.9},{"s":"l3","t":720,"v":21.9},{"s":"l3","t":740,"v":21.8},{"s":"l3","t":760,"v":21.3},{"s":"l3","t":780,"v":21.2},{"s":"l3","t":800,"v":21.0},{"s":"l3","t":820,"v":20.5},{"s":"l3","t":840,"v":20.2},{"s":"l3","t":860,"v":20.3},{"s":"l3","t":880,"v":20.0},{"s":"l3","t":900,"v":20.1},{"s":"l3","t":920,"v":19.6},{"s":"l3","t":940,"v":19.5},{"s":"l3","t":960,"v":19.6},{"s":"l3","t":980,"v":19.4},{"s":"l3","t":1000,"v":19.2},{"s":"l3","t":1020,"v":19.5},{"s":"l3","t":1040,"v":19.5},{"s":"l3","t":1060,"v":19.4},{"s":"l3","t":1080,"v":19.7},{"s":"l3","t":1100,"v":19.6},{"s":"l3","t":1120,"v":19.4},{"s":"l3","t":1140,"v":19.3},{"s":"l3","t":1160,"v":18.7},{"s":"l3","t":1180,"v":18.9},{"s":"l3","t":1200,"v":18.9},{"s":"l3","t":1220,"v":18.7},{"s":"l3","t":1240,"v":18.8},{"s":"l3","t":1260,"v":18.4},{"s":"l3","t":1280,"v":18.3},{"s":"l3","t":1300,"v":17.9},{"s":"l3","t":1320,"v":18.3},{"s":"l3","t":1340,"v":18.2},{"s":"l3","t":1360,"v":18.2}
]},
"layer":[
{"data":{"name":"meas"},"transform":[{"filter":"datum.s != 'e'"}],
"mark":{"type":"point","filled":false,"size":28,"strokeWidth":1,"opacity":1},
"encoding":{
"x":{"field":"t","type":"quantitative","scale":{"domain":[0,1800],"nice":false,"zero":false},"axis":{"orient":"bottom","values":[200,400,600,800,1000,1200,1400,1600,1800],"format":"d","title":"Time (min)","labelPadding":8,"titlePadding":0,"titleFontSize":20}},
"y":{"field":"v","type":"quantitative","scale":{"domain":[5,36],"nice":false,"zero":false},"axis":{"orient":"left","values":[5,10,15,20,25,30,35],"format":"d","title":"Temperature (°C)","labelPadding":5,"titlePadding":8}},
"color":{"field":"s","type":"nominal","scale":{"domain":["e","c","m1","m2","m3","l1","l2","l3"],"range":["#000000","#149628","#f02020","#19c3c3","#cc2ccc","#bdbd0a","#f7a0c0","#1a1acc"]},
"legend":{"title":null,"orient":"none","legendX":554,"legendY":10,"symbolSize":30,"labelFontSize":16.5,"labelOffset":4,"rowPadding":21.8,"symbolStrokeWidth":1.2,"encode":{"symbols":{"update":{"strokeWidth":{"signal":"datum.value === 'e' ? 2.5 : 1.2"}}}},
"labelExpr":"datum.value=='e'?'Measured Tₑ':datum.value=='c'?'Measured Tc':datum.value=='m1'?'Measured Tₘ¹':datum.value=='m2'?'Measured Tₘ²':datum.value=='m3'?'Measured Tₘ³':datum.value=='l1'?'Measured Tₗ¹':datum.value=='l2'?'Measured Tₗ²':'Measured Tₗ³'"}},
"shape":{"field":"s","type":"nominal","scale":{"domain":["e","c","m1","m2","m3","l1","l2","l3"],"range":["M-3,0L3.5,0","square","circle","M-1,-1L1,1M1,-1L-1,1","M-1,0L1,0M0,-1L0,1M-0.7,-0.7L0.7,0.7M0.7,-0.7L-0.7,0.7","diamond","triangle-down","triangle-up"]},
"legend":{"title":null,"orient":"none","legendX":554,"legendY":10,"symbolSize":30,"labelFontSize":16.5,"labelOffset":4,"rowPadding":21.8,"symbolStrokeWidth":1.2,"encode":{"symbols":{"update":{"strokeWidth":{"signal":"datum.value === 'e' ? 2.5 : 1.2"}}}},
"labelExpr":"datum.value=='e'?'Measured Tₑ':datum.value=='c'?'Measured Tc':datum.value=='m1'?'Measured Tₘ¹':datum.value=='m2'?'Measured Tₘ²':datum.value=='m3'?'Measured Tₘ³':datum.value=='l1'?'Measured Tₗ¹':datum.value=='l2'?'Measured Tₗ²':'Measured Tₗ³'"}}
}},
{"data":{"name":"meas"},"transform":[{"filter":"datum.s == 'e'"}],
"mark":{"type":"line","color":"#000000","strokeWidth":1.8},
"encoding":{"x":{"field":"t","type":"quantitative","axis":null},"y":{"field":"v","type":"quantitative","axis":null}}},
{"data":{"name":"calc"},
"mark":{"type":"line","strokeWidth":1.8},
"encoding":{"x":{"field":"t","type":"quantitative","axis":null},"y":{"field":"v","type":"quantitative","axis":null},
"color":{"field":"s","type":"nominal","scale":{"domain":["c","d1","d2","m1","m2","m3","l1","l2","l3"],"range":["#149628","transparent","transparent","#f02020","#19c3c3","#cc2ccc","#bdbd0a","#f7a0c0","#1a1acc"]},
"legend":{"title":null,"orient":"none","legendX":39,"legendY":206,"direction":"horizontal","columns":3,"symbolType":"stroke","symbolSize":289,"symbolStrokeWidth":2,"labelFontSize":14.5,"labelOffset":0,"rowPadding":25,"columnPadding":14,
"labelExpr":"datum.value=='c'?'Calculated Tc':datum.value=='m1'?'Calculated Tₘ¹':datum.value=='m2'?'Calculated Tₘ²':datum.value=='m3'?'Calculated Tₘ³':datum.value=='l1'?'Calculated Tₗ¹':datum.value=='l2'?'Calculated Tₗ²':datum.value=='l3'?'Calculated Tₗ³':''"}}}},
{"data":{"name":"meas"},"transform":[{"filter":"datum.s == 'e'"}],
"mark":{"type":"line","opacity":0},
"encoding":{"x":{"field":"t","type":"quantitative","axis":{"orient":"top","values":[200,400,600,800,1000,1200,1400,1600,1800],"labels":false,"title":null}},
"y":{"field":"v","type":"quantitative","axis":{"orient":"right","values":[5,10,15,20,25,30,35],"labels":false,"title":null}}}}
],
"resolve":{"scale":{"color":"independent","shape":"independent"},"axis":{"x":"independent","y":"independent"}}
}
